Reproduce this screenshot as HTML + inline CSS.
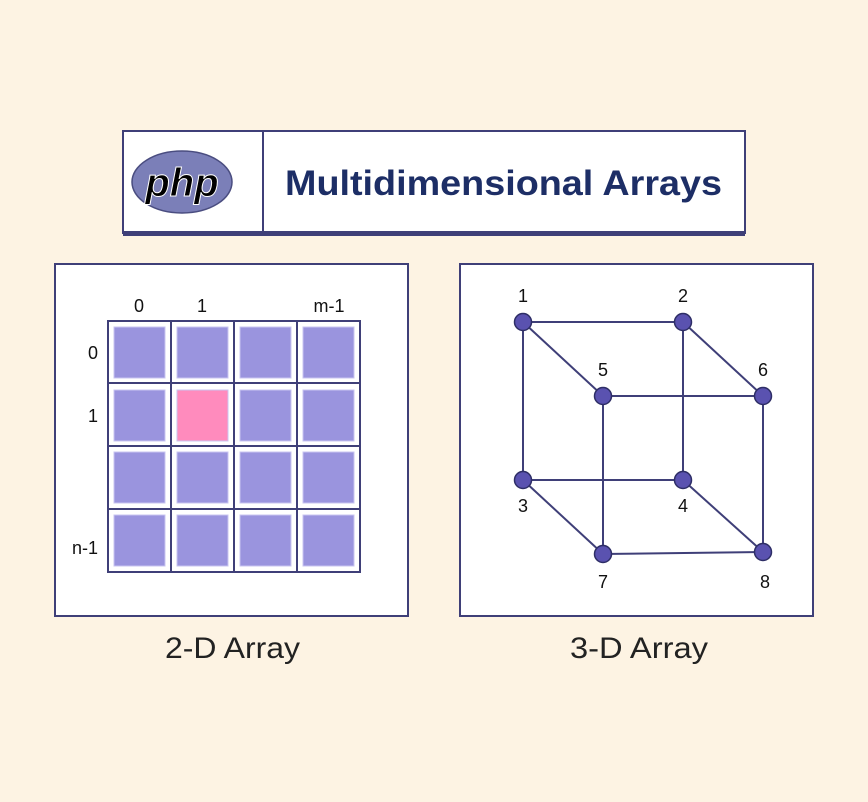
<!DOCTYPE html>
<html><head><style>
body{margin:0;background:#fdf3e3;}
svg{display:block}
</style></head><body>
<svg width="868" height="802" viewBox="0 0 868 802" xmlns="http://www.w3.org/2000/svg">
<rect width="868" height="802" fill="#fdf3e3"/>
<rect x="123" y="131" width="622" height="102" fill="#fff" stroke="#3f3f78" stroke-width="2"/>
<rect x="123" y="231" width="622" height="5" fill="#3f3f78"/>
<line x1="263" y1="131" x2="263" y2="232" stroke="#3f3f78" stroke-width="2"/>
<ellipse cx="182" cy="182" rx="50" ry="31" fill="#7b7fb8" stroke="#4a4d80" stroke-width="1.5"/>
<text x="182" y="196" text-anchor="middle" font-family="Liberation Sans, sans-serif" font-style="italic" font-weight="bold" font-size="40" fill="#000" stroke="#fff" stroke-width="1">php</text>
<text x="285" y="195" textLength="437" lengthAdjust="spacingAndGlyphs" font-family="Liberation Sans, sans-serif" font-weight="bold" font-size="35" fill="#1d2e66">Multidimensional Arrays</text>

<rect x="55" y="264" width="353" height="352" fill="#fff" stroke="#3f3f78" stroke-width="2"/>
<rect x="460" y="264" width="353" height="352" fill="#fff" stroke="#3f3f78" stroke-width="2"/>

<g font-family="Liberation Sans, sans-serif" font-size="18" fill="#111">
<text x="139" y="312" text-anchor="middle">0</text>
<text x="202" y="312" text-anchor="middle">1</text>
<text x="329" y="312" text-anchor="middle">m-1</text>
<text x="98" y="359" text-anchor="end">0</text>
<text x="98" y="422" text-anchor="end">1</text>
<text x="98" y="554" text-anchor="end">n-1</text>
</g>
<g stroke="#3f3f78" stroke-width="2" fill="#fff">
<rect x="108" y="321" width="252" height="251"/>
<line x1="171" y1="321" x2="171" y2="572"/><line x1="234" y1="321" x2="234" y2="572"/><line x1="297" y1="321" x2="297" y2="572"/>
<line x1="108" y1="383" x2="360" y2="383"/><line x1="108" y1="446" x2="360" y2="446"/><line x1="108" y1="509" x2="360" y2="509"/>
</g>
<g fill="#9a94de" stroke="#c8c4f0" stroke-width="1">
<rect x="114" y="327" width="51" height="51"/><rect x="177" y="327" width="51" height="51"/><rect x="240" y="327" width="51" height="51"/><rect x="303" y="327" width="51" height="51"/>
<rect x="114" y="390" width="51" height="51"/><rect x="177" y="390" width="51" height="51" fill="#ff8bbd"/><rect x="240" y="390" width="51" height="51"/><rect x="303" y="390" width="51" height="51"/>
<rect x="114" y="452" width="51" height="51"/><rect x="177" y="452" width="51" height="51"/><rect x="240" y="452" width="51" height="51"/><rect x="303" y="452" width="51" height="51"/>
<rect x="114" y="515" width="51" height="51"/><rect x="177" y="515" width="51" height="51"/><rect x="240" y="515" width="51" height="51"/><rect x="303" y="515" width="51" height="51"/>
</g>

<g stroke="#3f3f78" stroke-width="2">
<line x1="523" y1="322" x2="683" y2="322"/><line x1="523" y1="322" x2="523" y2="480"/><line x1="523" y1="322" x2="603" y2="396"/>
<line x1="683" y1="322" x2="683" y2="480"/><line x1="683" y1="322" x2="763" y2="396"/>
<line x1="603" y1="396" x2="763" y2="396"/><line x1="603" y1="396" x2="603" y2="554"/><line x1="763" y1="396" x2="763" y2="552"/>
<line x1="523" y1="480" x2="683" y2="480"/><line x1="523" y1="480" x2="603" y2="554"/><line x1="683" y1="480" x2="763" y2="552"/><line x1="603" y1="554" x2="763" y2="552"/>
</g>
<g fill="#5a52b0" stroke="#2e2e66" stroke-width="1.5">
<circle cx="523" cy="322" r="8.5"/><circle cx="683" cy="322" r="8.5"/><circle cx="603" cy="396" r="8.5"/><circle cx="763" cy="396" r="8.5"/>
<circle cx="523" cy="480" r="8.5"/><circle cx="683" cy="480" r="8.5"/><circle cx="603" cy="554" r="8.5"/><circle cx="763" cy="552" r="8.5"/>
</g>
<g font-family="Liberation Sans, sans-serif" font-size="18" fill="#111" text-anchor="middle">
<text x="523" y="302">1</text><text x="683" y="302">2</text><text x="603" y="376">5</text><text x="763" y="376">6</text>
<text x="523" y="512">3</text><text x="683" y="512">4</text><text x="603" y="588">7</text><text x="765" y="588">8</text>
</g>
<g font-family="Liberation Sans, sans-serif" font-size="30" fill="#222">
<text x="165" y="658" textLength="135" lengthAdjust="spacingAndGlyphs">2-D Array</text><text x="570" y="658" textLength="138" lengthAdjust="spacingAndGlyphs">3-D Array</text>
</g>
</svg>
</body></html>
